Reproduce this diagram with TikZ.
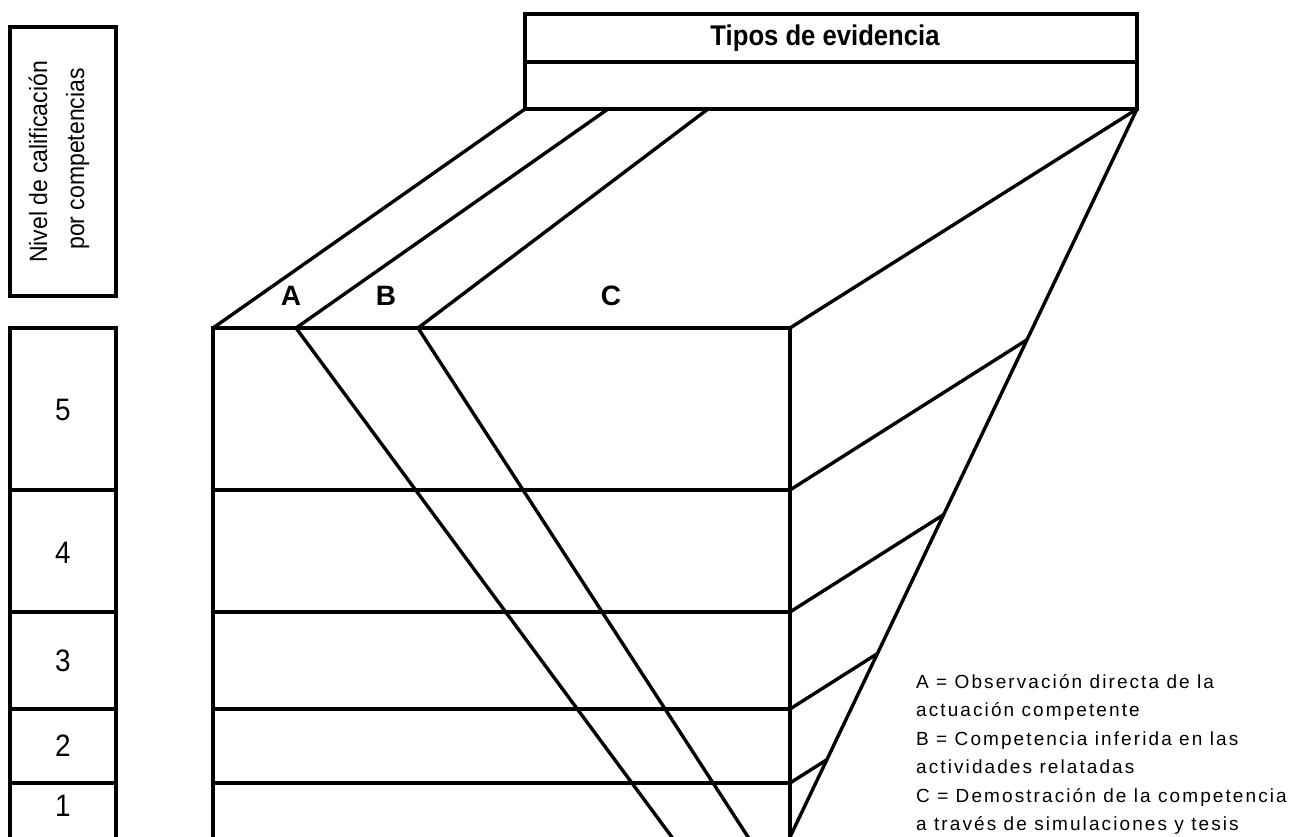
\documentclass[tikz,border=0pt]{standalone}
\usepackage{fontspec}
\setmainfont{Liberation Sans}
\newfontfamily\narrowfont[FakeStretch=0.9]{Liberation Sans}
\newfontfamily\legendfont[LetterSpace=11]{Liberation Sans}
\newfontfamily\vfont[FakeStretch=0.92]{Liberation Sans}
\tikzset{
  edge/.style={line width=3.4pt, line join=miter},
  vlabel/.style={rotate=90, anchor=base, inner sep=0pt, font=\vfont\fontsize{25}{28}\selectfont},
  digit/.style={inner sep=0pt, font=\narrowfont\fontsize{31}{34}\selectfont},
  letter/.style={inner sep=0pt, font=\fontsize{28}{32}\selectfont\bfseries},
  title/.style={inner sep=0pt, anchor=base, font=\narrowfont\fontsize{28.5}{32}\selectfont\bfseries},
  legend/.style={inner sep=0pt, anchor=base west, font=\legendfont\fontsize{19}{22}\selectfont}
}
\begin{document}
\begin{tikzpicture}[x=1pt,y=-1pt]
\useasboundingbox (0,0) rectangle (1307,837);
\clip (0,0) rectangle (1307,837);

% left label box
\draw[edge] (10,27) rectangle (116,296);
\node[vlabel] (lab1) at (47,162) {Nivel de calificación};
\node[vlabel] (lab2) at (84,159) {por competencias};

% level column
\draw[edge] (10,845) -- (10,328) -- (116,328) -- (116,845);
\foreach \y in {490,612,709,783} \draw[edge] (10,\y) -- (116,\y);
\node[digit] (n5) at (63,410) {5};
\node[digit] (n4) at (63,553) {4};
\node[digit] (n3) at (63,661) {3};
\node[digit] (n2) at (63,746) {2};
\node[digit] (n1) at (63,806) {1};

% coordinates of the block
\coordinate (FTL) at (213,328);
\coordinate (FTR) at (790,328);
\coordinate (BTL) at (525,109);
\coordinate (BTR) at (1137,109);
\coordinate (BR) at (790,837);
\coordinate (AB1) at (296,328);
\coordinate (AB2) at (608,109);
\coordinate (BC1) at (418,328);
\coordinate (BC2) at (708,109);
\coordinate (AB3) at (674,840);
\coordinate (BC3) at (750,840);

% top box
\draw[edge] (525,14) rectangle (BTR);
\draw[edge] (525,62) -- (1137,62);
\node[title] (tipos) at (825,46) {Tipos de evidencia};

% front face
\draw[edge] (213,845) -- (FTL) -- (FTR) -- (790,845);
\foreach \y in {490,612,709,783} \draw[edge] (213,\y) -- (790,\y);

% top face
\draw[edge] (FTL) -- (BTL);
\draw[edge] (FTR) -- (BTR);
\draw[edge] (AB1) -- (AB2);
\draw[edge] (BC1) -- (BC2);

% front diagonals
\draw[edge] (AB1) -- (AB3);
\draw[edge] (BC1) -- (BC3);

% right side
\draw[edge] (BTR) -- (BR);
\foreach \y/\yy in {490/270,612/392,709/489,783/563}
  \draw[edge] (790,\y) -- (intersection of {790,\y}--{1137,\yy} and BTR--BR);

% letters
\node[letter] (A) at (291,296) {A};
\node[letter] (B) at (386,296) {B};
\node[letter] (C) at (611,296) {C};

% legend
\node[legend] (leg1) at (916,688) {A = Observación directa de la};
\node[legend] (leg2) at (916,716.5) {actuación competente};
\node[legend] (leg3) at (916,745) {B = Competencia inferida en las};
\node[legend] (leg4) at (916,773.5) {actividades relatadas};
\node[legend] (leg5) at (916,802) {C = Demostración de la competencia};
\node[legend] (leg6) at (916,830) {a través de simulaciones y tesis};
\end{tikzpicture}
\end{document}
